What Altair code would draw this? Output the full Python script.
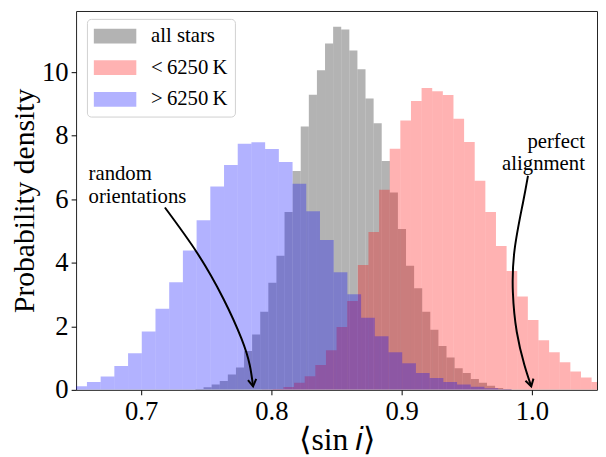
import altair as alt
import pandas as pd

# ---- data ----
series_names = ["all stars", "<\u20096250\u2009K", ">\u20096250\u2009K"]
series_colors = ["rgba(128,128,128,0.6)", "rgba(255,0,0,0.3)", "rgba(0,0,255,0.3)"]

all_start = 0.74167
all_width = 0.006218
all_heights = [0.03, 0.08, 0.17, 0.28, 0.48, 0.70, 1.22, 1.74, 2.46, 3.37, 4.22, 5.60,
               6.89, 8.29, 9.29, 10.06, 10.90, 11.43, 11.34, 10.68, 10.09, 9.17, 8.39, 7.20,
               6.21, 5.06, 3.91, 3.20, 2.46, 1.89, 1.38, 1.02, 0.68, 0.53, 0.34, 0.22, 0.13,
               0.06, 0.03]

cool_start = 0.79290
cool_width = 0.00816
cool_heights = [0.01, 0.03, 0.09, 0.22, 0.43, 0.78, 1.25, 1.98, 2.80, 3.93, 4.97, 6.30,
                7.59, 8.48, 9.09, 9.50, 9.40, 9.28, 8.53, 7.80, 6.58, 5.60, 4.53, 3.74,
                2.94, 2.20, 1.56, 1.18, 0.87, 0.58, 0.39, 0.25, 0.15]

hot_start = 0.64781
hot_width = 0.010526
hot_heights = [0.11, 0.25, 0.42, 0.75, 1.15, 1.84, 2.55, 3.39, 4.39, 5.34, 6.40, 7.08,
               7.75, 7.79, 7.58, 7.17, 6.49, 5.62, 4.72, 3.70, 3.01, 2.27, 1.69, 1.18,
               0.84, 0.53, 0.37, 0.25, 0.17, 0.10, 0.05, 0.02]

x_ticks = [0.7, 0.8, 0.9, 1.0]
y_ticks = [0, 2, 4, 6, 8, 10]

# annotation arrows (data coordinates)
arrow1_x = [0.7182, 0.7430, 0.7632, 0.7770, 0.7833, 0.7859]
arrow1_y = [5.74, 4.31, 2.86, 1.61, 0.79, 0.11]
arrow2_x = [0.9970, 0.9930, 0.9867, 0.9854, 0.9884, 0.9942, 0.9995]
arrow2_y = [6.74, 5.86, 4.41, 3.07, 1.82, 0.79, 0.11]
arrow_head_angle = [352, 345]

label_text = ["random\norientations", "perfect\nalignment"]
label_x = [0.6596, 1.0407]
label_y = [6.6, 7.6]
label_align = ["left", "right"]

FONT = "Liberation Serif"

# ---- tables ----
rows = []
for idx, (name, start, width, heights) in enumerate([
    (series_names[0], all_start, all_width, all_heights),
    (series_names[1], cool_start, cool_width, cool_heights),
    (series_names[2], hot_start, hot_width, hot_heights),
]):
    for i, h in enumerate(heights):
        x0 = start + i * width
        rows.append({"series": name, "idx": idx, "x0": x0, "x1": x0 + width, "h": h})
hist = pd.DataFrame(rows)

arr_rows = []
for aid, (xs, ys) in enumerate([(arrow1_x, arrow1_y), (arrow2_x, arrow2_y)]):
    for k, (xx, yy) in enumerate(zip(xs, ys)):
        arr_rows.append({"aid": aid, "k": k, "x": xx, "y": yy})
arrows = pd.DataFrame(arr_rows)
heads = pd.DataFrame({
    "x": [arrow1_x[-1], arrow2_x[-1]],
    "y": [arrow1_y[-1], arrow2_y[-1]],
    "ang": arrow_head_angle,
})
labels = pd.DataFrame({"t": label_text, "x": label_x, "y": label_y, "al": label_align})

xscale = alt.Scale(domain=[0.65, 1.05], nice=False, zero=False)
yscale = alt.Scale(domain=[0, 11.925], nice=False)

bars = alt.Chart(hist).mark_rect(clip=True, strokeWidth=0).encode(
    x=alt.X("x0:Q", scale=xscale,
            axis=alt.Axis(values=x_ticks, format=".1f", title="\u27e8sin\u2009\U0001D456\u27e9",
                          titlePadding=0)),
    x2="x1:Q",
    y=alt.Y("h:Q", scale=yscale,
            axis=alt.Axis(values=y_ticks, format="d", title="Probability density",
                          titlePadding=2, titleFontSize=30)),
    y2=alt.datum(0),
    color=alt.Color("series:N", sort=series_names,
                    scale=alt.Scale(domain=series_names, range=series_colors),
                    legend=alt.Legend(title=None, orient="none", legendX=11, legendY=8,
                                      symbolType="M-1,-0.71L3.1,-0.71L3.1,0.71L-1,0.71Z",
                                      symbolSize=441, symbolStrokeWidth=0,
                                      labelFont=FONT, labelFontSize=21,
                                      fillColor="white", strokeColor="#d0d0d0",
                                      cornerRadius=4, padding=7, rowPadding=10,
                                      labelOffset=37, symbolOpacity=1)),
    order=alt.Order("idx:Q", sort="ascending"),
)

lines = alt.Chart(arrows).mark_line(interpolate="natural", color="black", strokeWidth=2,
                                    clip=True).encode(
    x=alt.X("x:Q", scale=xscale),
    y=alt.Y("y:Q", scale=yscale),
    detail="aid:N",
    order="k:Q",
)

tips = alt.Chart(heads).mark_point(shape="M-0.6,-1L0,0L0.6,-1", filled=False, color="black",
                                   strokeWidth=2, size=196, opacity=1).encode(
    x=alt.X("x:Q", scale=xscale),
    y=alt.Y("y:Q", scale=yscale),
    angle=alt.Angle("ang:Q", scale=None),
)

txt_left = alt.Chart(labels[labels.al == "left"]).mark_text(
    align="left", baseline="alphabetic", font=FONT, fontSize=21, lineBreak="\n",
    lineHeight=23, color="black").encode(
    x=alt.X("x:Q", scale=xscale), y=alt.Y("y:Q", scale=yscale), text="t:N")
txt_right = alt.Chart(labels[labels.al == "right"]).mark_text(
    align="right", baseline="alphabetic", font=FONT, fontSize=21, lineBreak="\n",
    lineHeight=22, color="black").encode(
    x=alt.X("x:Q", scale=xscale), y=alt.Y("y:Q", scale=yscale), text="t:N")

chart = alt.layer(bars, lines, tips, txt_left, txt_right).properties(
    width=528, height=384,
    autosize=alt.AutoSizeParams(type="none"),
    padding={"left": 69, "top": 0, "right": 1, "bottom": 64},
).configure(font=FONT).configure_view(stroke="#222", strokeWidth=1).configure_axis(
    grid=False, domain=False, ticks=True, tickSize=5, tickColor="black", tickWidth=1,
    labelFont=FONT, labelFontSize=27, labelColor="black", labelPadding=3,
    titleFont=FONT, titleFontSize=32, titleFontWeight="normal", titleColor="black",
).configure_axisX(labelPadding=4).configure_legend(labelFont=FONT)

chart.save("out.html", embed_options={"renderer": "svg", "actions": False})
